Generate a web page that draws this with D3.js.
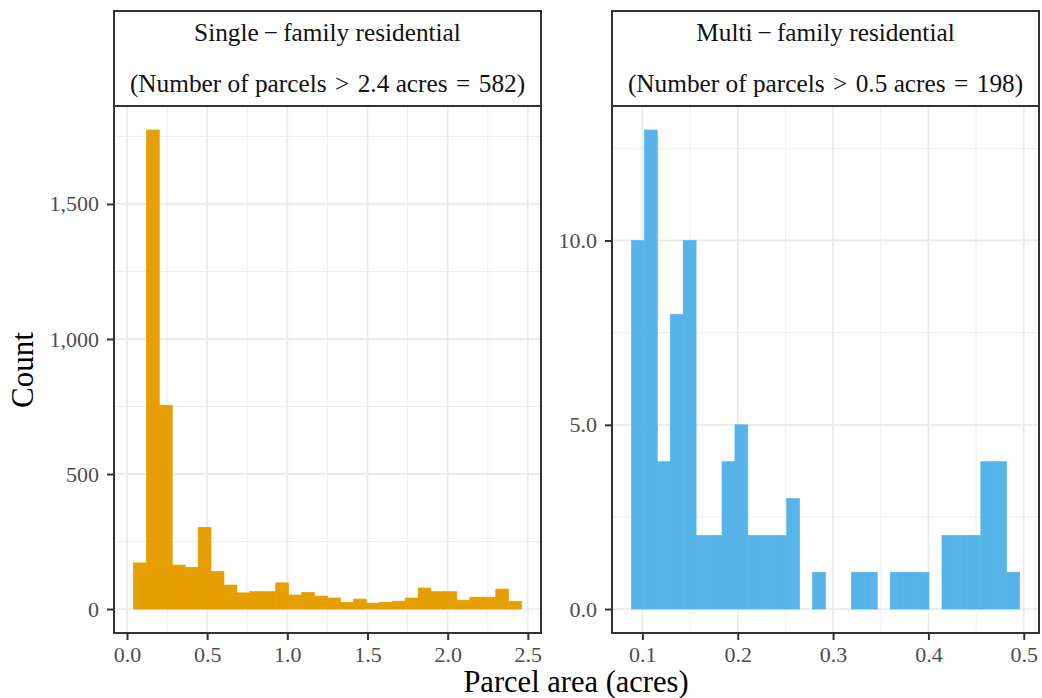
<!DOCTYPE html>
<html>
<head>
<meta charset="utf-8">
<script src="https://cdn.jsdelivr.net/npm/d3@7"></script>
<style>
  body { margin: 0; background: #fff; }
  svg { display: block; }
  text { font-family: "Liberation Serif", serif; }
</style>
</head>
<body>
<svg id="chart" width="1042" height="698"></svg>
<script>
// single-family histogram (30 bins)
var sfTitle = ['Single\u2009\u2212\u2009family residential', '(Number of parcels\u2004>\u20042.4 acres\u2004=\u2004582)']
var sfBinStart = 0.04
var sfBinWidth = 0.0807
var sfCounts = [171, 1774, 755, 163, 155, 303, 140, 89, 60, 65, 65, 97, 52, 62, 48,
  41, 25, 37, 22, 25, 29, 41, 78, 65, 65, 33, 44, 44, 74, 29]
var sfXTicks = [0, 0.5, 1, 1.5, 2, 2.5]
var sfYTicks = [0, 500, 1000, 1500]

// multi-family histogram (30 bins)
var mfTitle = ['Multi\u2009\u2212\u2009family residential', '(Number of parcels\u2004>\u20040.5 acres\u2004=\u2004198)']
var mfBinStart = 0.0885
var mfBinWidth = 0.01357
var mfCounts = [10, 13, 4, 8, 10, 2, 2, 4, 5, 2, 2, 2, 3, 0, 1,
  0, 0, 1, 1, 0, 1, 1, 1, 0, 2, 2, 2, 4, 4, 1]
var mfXTicks = [0.1, 0.2, 0.3, 0.4, 0.5]
var mfYTicks = [0, 5, 10]

var xTitle = 'Parcel area (acres)'
var yTitle = 'Count'

var svg = d3.select('#chart')
var stripTop = 11,
  panelTop = 106,
  panelBottom = 633,
  dark = '#333333',
  grid = '#EBEBEB'

function expand(lo, hi) {
  var pad = (hi - lo) * 0.05
  return [lo - pad, hi + pad]
}

function midpoints(ticks) {
  var out = []
  for (var i = 0; i < ticks.length - 1; i++) {
    out.push((ticks[i] + ticks[i + 1]) / 2)
  }
  return out
}

function drawPanel(opts) {
  var left = opts.left,
    right = opts.right
  var bins = opts.counts.map(function(c, i) {
    return { x0: opts.start + i * opts.width, x1: opts.start + (i + 1) * opts.width, n: c }
  })
  var x = d3.scaleLinear()
    .domain(expand(opts.start, opts.start + opts.counts.length * opts.width))
    .range([left, right])
  var y = d3.scaleLinear()
    .domain(expand(0, d3.max(opts.counts)))
    .range([panelBottom, panelTop])

  var g = svg.append('g')

  // minor grid
  var xStep = opts.xTicks[1] - opts.xTicks[0]
  var xMinor = midpoints([opts.xTicks[0] - xStep].concat(opts.xTicks, [opts.xTicks[opts.xTicks.length - 1] + xStep]))
    .filter(function(v) { return v > x.domain()[0] && v < x.domain()[1] })
  var yStep = opts.yTicks[1] - opts.yTicks[0]
  var yMinor = midpoints(opts.yTicks.concat([opts.yTicks[opts.yTicks.length - 1] + yStep]))
    .filter(function(v) { return v < y.domain()[1] })

  g.selectAll('.xminor').data(xMinor).enter().append('line')
    .attr('x1', x).attr('x2', x).attr('y1', panelTop).attr('y2', panelBottom)
    .attr('stroke', grid).attr('stroke-width', 0.9)
  g.selectAll('.yminor').data(yMinor).enter().append('line')
    .attr('x1', left).attr('x2', right).attr('y1', y).attr('y2', y)
    .attr('stroke', grid).attr('stroke-width', 0.9)
  // major grid
  g.selectAll('.xmajor').data(opts.xTicks).enter().append('line')
    .attr('x1', x).attr('x2', x).attr('y1', panelTop).attr('y2', panelBottom)
    .attr('stroke', grid).attr('stroke-width', 1.8)
  g.selectAll('.ymajor').data(opts.yTicks).enter().append('line')
    .attr('x1', left).attr('x2', right).attr('y1', y).attr('y2', y)
    .attr('stroke', grid).attr('stroke-width', 1.8)

  // bars (empty bins still leave a hairline, as in the original)
  g.selectAll('.bar').data(bins).enter().append('rect')
    .attr('x', function(d) { return x(d.x0) })
    .attr('width', function(d) { return x(d.x1) - x(d.x0) })
    .attr('y', function(d) { return y(d.n) })
    .attr('height', function(d) { return y(0) - y(d.n) })
    .attr('fill', opts.color)
    .attr('stroke', opts.color)
    .attr('stroke-width', 0.6)

  // panel border
  g.append('rect')
    .attr('x', left).attr('y', panelTop)
    .attr('width', right - left).attr('height', panelBottom - panelTop)
    .attr('fill', 'none').attr('stroke', dark).attr('stroke-width', 2)

  // strip
  g.append('rect')
    .attr('x', left).attr('y', stripTop)
    .attr('width', right - left).attr('height', panelTop - stripTop)
    .attr('fill', '#fff').attr('stroke', dark).attr('stroke-width', 2)
  g.selectAll('.strip').data(opts.title).enter().append('text')
    .attr('x', (left + right) / 2)
    .attr('y', function(d, i) { return i === 0 ? 41 : 92 })
    .attr('text-anchor', 'middle')
    .attr('font-size', 25.3)
    .attr('fill', '#111')
    .text(function(d) { return d })

  // x axis
  var xa = g.append('g').attr('transform', 'translate(0,' + panelBottom + ')')
    .call(d3.axisBottom(x).tickValues(opts.xTicks).tickFormat(d3.format('.1f'))
      .tickSize(7).tickPadding(6))
  // y axis
  var ya = g.append('g').attr('transform', 'translate(' + left + ',0)')
    .call(d3.axisLeft(y).tickValues(opts.yTicks).tickFormat(opts.yFormat)
      .tickSize(7).tickPadding(8))
  ;[xa, ya].forEach(function(a) {
    a.select('.domain').remove()
    a.selectAll('.tick line').attr('stroke', dark).attr('stroke-width', 2)
    a.selectAll('.tick text')
      .attr('font-family', '"Liberation Serif", serif')
      .attr('font-size', 22)
      .attr('fill', '#4D4D4D')
  })
  xa.selectAll('.tick text').attr('dy', '0.73em')
}

drawPanel({
  left: 114, right: 541,
  start: sfBinStart, width: sfBinWidth, counts: sfCounts,
  xTicks: sfXTicks, yTicks: sfYTicks,
  yFormat: d3.format(','), title: sfTitle, color: '#E69F00'
})
drawPanel({
  left: 612, right: 1039,
  start: mfBinStart, width: mfBinWidth, counts: mfCounts,
  xTicks: mfXTicks, yTicks: mfYTicks,
  yFormat: d3.format('.1f'), title: mfTitle, color: '#56B4E9'
})

svg.append('text')
  .attr('x', 576).attr('y', 692)
  .attr('text-anchor', 'middle')
  .attr('font-size', 30.5)
  .text(xTitle)
svg.append('text')
  .attr('transform', 'translate(33,370) rotate(-90)')
  .attr('text-anchor', 'middle')
  .attr('font-size', 31)
  .text(yTitle)
</script>
</body>
</html>
